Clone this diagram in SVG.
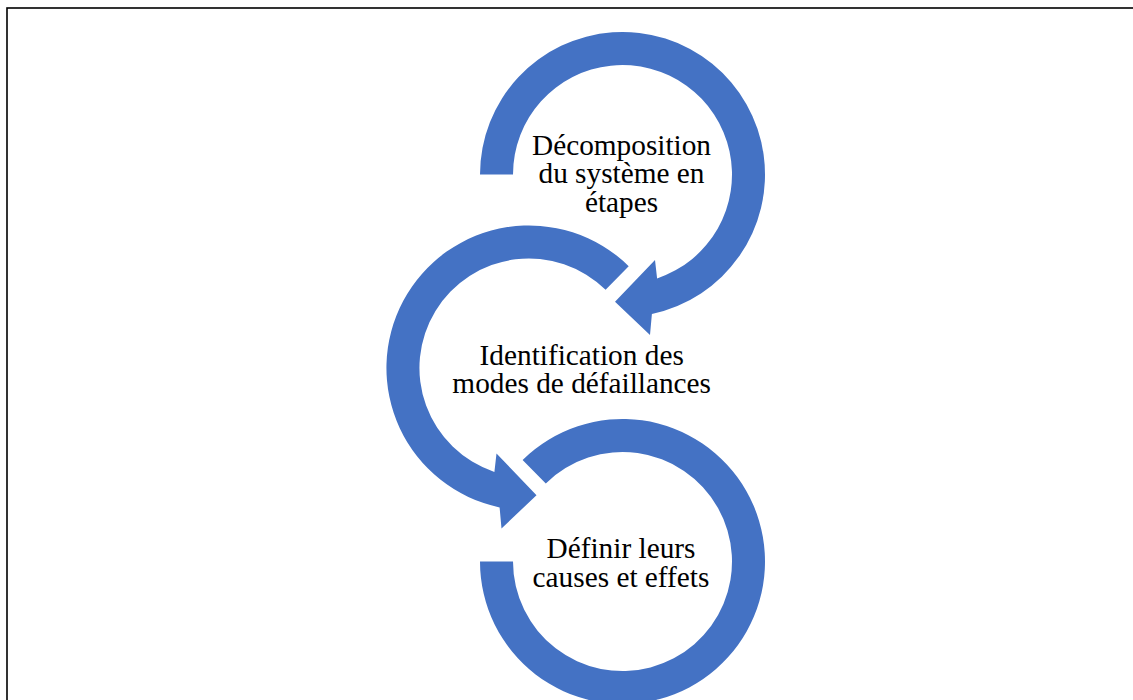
<svg xmlns="http://www.w3.org/2000/svg" width="1133" height="700" viewBox="0 0 1133 700">
<style>
.arrow{fill:#4472C4;stroke:none}
.lbl{font-family:"Liberation Serif","Times New Roman",serif;font-size:29.3px;fill:#000;text-anchor:middle}
</style>
<rect x="0" y="0" width="1133" height="700" fill="#fff"/>
<rect x="7" y="8" width="1140" height="720" fill="none" stroke="#000" stroke-width="1.6"/>
<g id="node1">
<path class="arrow" d="M 480 174.5 A 142.5 142.5 0 1 1 651.9 313.9 L 650 335 L 615 301.7 L 655 260 L 657.1 278.4 A 109.5 109.5 0 1 0 513 174.5 Z"/>
<text class="lbl" x="621.5" y="155">Décomposition</text>
<text class="lbl" x="621.5" y="183.3">du système en</text>
<text class="lbl" x="621.5" y="211.7">étapes</text>
</g>
<g id="node2">
<path class="arrow" d="M 628.7 266.2 A 142.5 142.5 0 1 0 499.6 507.4 L 501.5 528.5 L 536.5 495.2 L 496.5 453.5 L 494.4 471.9 A 109.5 109.5 0 1 1 605.6 289.8 Z"/>
<text class="lbl" x="581.7" y="365">Identification des</text>
<text class="lbl" x="581.7" y="393.3">modes de défaillances</text>
</g>
<g id="node3">
<path class="arrow" d="M 522.6 459.9 A 142.5 142.5 0 1 1 480 561.5 L 513 561.5 A 109.5 109.5 0 1 0 545.8 483.4 Z"/>
<text class="lbl" x="621" y="558.3">Définir leurs</text>
<text class="lbl" x="621" y="586.7">causes et effets</text>
</g>
<g id="connectors"></g>
</svg>
